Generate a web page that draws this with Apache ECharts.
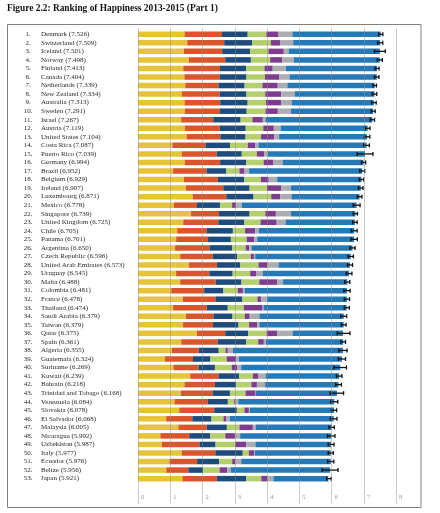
<!DOCTYPE html>
<html><head><meta charset="utf-8">
<script src="https://cdn.jsdelivr.net/npm/echarts@6/dist/echarts.min.js"></script>
<style>html,body{margin:0;padding:0;background:#fff}#c{width:440px;height:513px}</style>
</head><body><div id="c"></div>
<script>
const countries = ["Denmark","Switzerland","Iceland","Norway","Finland","Canada","Netherlands","New Zealand","Australia","Sweden","Israel","Austria","United States","Costa Rica","Puerto Rico","Germany","Brazil","Belgium","Ireland","Luxembourg","Mexico","Singapore","United Kingdom","Chile","Panama","Argentina","Czech Republic","United Arab Emirates","Uruguay","Malta","Colombia","France","Thailand","Saudi Arabia","Taiwan","Qatar","Spain","Algeria","Guatemala","Suriname","Kuwait","Bahrain","Trinidad and Tobago","Venezuela","Slovakia","El Salvador","Malaysia","Nicaragua","Uzbekistan","Italy","Ecuador","Belize","Japan"];
const scores = [7.526,7.509,7.501,7.498,7.413,7.404,7.339,7.334,7.313,7.291,7.267,7.119,7.104,7.087,7.039,6.994,6.952,6.929,6.907,6.871,6.778,6.739,6.725,6.705,6.701,6.650,6.596,6.573,6.545,6.488,6.481,6.478,6.474,6.379,6.379,6.375,6.361,6.355,6.324,6.269,6.239,6.218,6.168,6.084,6.078,6.068,6.005,5.992,5.987,5.977,5.976,5.956,5.921];
const gdp = [1.44178,1.52733,1.42666,1.57744,1.40598,1.44015,1.46468,1.36066,1.44443,1.45181,1.33766,1.45038,1.50796,1.06879,1.35943,1.44787,1.08754,1.42539,1.48341,1.69752,1.11508,1.64555,1.40283,1.2167,1.18306,1.15137,1.30915,1.57352,1.18157,1.30782,1.03032,1.39488,1.0893,1.48953,1.39729,1.82427,1.34253,1.05266,0.83454,1.09686,1.61714,1.44024,1.32572,1.13367,1.27973,0.8737,1.25142,0.69384,0.73591,1.35495,0.97306,0.87616,1.38007];
const socialSupport = [1.16374,1.14524,1.18326,1.1269,1.13464,1.0961,1.02912,1.17278,1.10476,1.08764,0.99537,1.08383,1.04782,1.02152,1.08113,1.09774,1.03938,1.05249,1.16157,1.03999,0.7146,0.86758,1.08672,0.90587,0.98912,1.06612,1.00793,0.87114,1.03143,1.09879,1.02169,1.00508,1.04477,0.84829,0.92624,0.87964,1.12945,0.83309,0.87119,0.77866,0.87758,0.94397,0.98569,1.03302,1.08268,0.80975,0.88025,0.89521,1.1681,1.04167,0.85974,0.68655,1.06054];
const health = [0.79504,0.86303,0.86733,0.79579,0.81091,0.8276,0.81231,0.83096,0.8512,0.83121,0.84917,0.80565,0.779,0.76146,0.77758,0.81487,0.61415,0.81959,0.81455,0.84542,0.71143,0.94719,0.80991,0.81883,0.70835,0.69711,0.76376,0.72993,0.72183,0.80315,0.59659,0.83795,0.64915,0.59267,0.79565,0.71723,0.87896,0.61804,0.54039,0.50933,0.63569,0.65696,0.5392,0.61904,0.70367,0.596,0.62366,0.65213,0.50163,0.85102,0.68613,0.45569,0.91491];
const freedom = [0.57941,0.58557,0.56624,0.59609,0.57104,0.5737,0.55211,0.58147,0.56837,0.58218,0.36432,0.54355,0.48163,0.55225,0.46823,0.53466,0.40425,0.51354,0.54008,0.5487,0.37709,0.4877,0.50036,0.37789,0.48927,0.42284,0.41418,0.56215,0.54388,0.54994,0.44735,0.46562,0.49553,0.37904,0.32377,0.56679,0.37545,0.21006,0.50379,0.52234,0.43166,0.47375,0.48453,0.19847,0.23391,0.37269,0.39031,0.46582,0.60848,0.18827,0.4027,0.51231,0.46761];
const generosity = [0.36171,0.28083,0.47678,0.37895,0.25492,0.44834,0.47416,0.49401,0.47407,0.38254,0.32288,0.32865,0.41077,0.22553,0.22202,0.30452,0.15776,0.2424,0.44963,0.27571,0.11735,0.32706,0.50156,0.31595,0.2418,0.10989,0.09929,0.26591,0.18056,0.56237,0.15626,0.1216,0.58696,0.15457,0.25495,0.32388,0.17665,0.07044,0.28808,0.16665,0.15965,0.17147,0.30348,0.0425,0.13837,0.08877,0.41474,0.29773,0.34326,0.16684,0.10074,0.23684,0.19615];
const corruption = [0.44453,0.41203,0.14975,0.35776,0.41004,0.31329,0.29927,0.41904,0.32331,0.40867,0.08728,0.21348,0.14868,0.10547,0.12275,0.28551,0.14166,0.26248,0.29754,0.35329,0.18355,0.46987,0.27399,0.11451,0.08423,0.07296,0.03986,0.35561,0.21394,0.17554,0.05399,0.17808,0.02833,0.30008,0.0663,0.48049,0.06137,0.16157,0.08701,0.12692,0.23669,0.25772,0.0114,0.08304,0.02947,0.10613,0.09081,0.16292,0.28333,0.02556,0.18037,0.10771,0.1806];
const dystopia = [2.73939,2.69463,2.83137,2.66465,2.82596,2.70485,2.70749,2.47553,2.5465,2.54734,3.31029,2.69343,2.72782,3.35168,3.00741,2.50931,3.50733,2.61355,2.15988,2.10944,3.55906,1.99375,2.14999,2.95505,3.00559,3.12985,2.96211,2.21507,2.67139,1.99032,3.17471,2.47553,2.5796,2.61482,2.61523,1.56276,2.39663,3.40904,3.19863,3.06852,2.28085,2.27405,2.51767,2.97468,2.61065,3.22134,2.35384,2.82428,2.34638,2.34918,2.77366,3.08039,1.70149];
const ciLower = [7.460,7.428,7.333,7.421,7.351,7.335,7.284,7.264,7.241,7.227,7.199,7.045,7.021,6.999,6.794,6.930,6.875,6.861,6.836,6.799,6.670,6.674,6.654,6.615,6.601,6.570,6.513,6.494,6.456,6.409,6.384,6.397,6.396,6.287,6.305,6.178,6.288,6.227,6.213,6.073,6.154,6.128,5.961,5.973,5.997,5.967,5.921,5.877,5.896,5.898,5.880,5.710,5.850];
const ciUpper = [7.592,7.590,7.669,7.575,7.475,7.473,7.394,7.404,7.385,7.355,7.335,7.193,7.187,7.175,7.284,7.058,7.029,6.997,6.978,6.943,6.886,6.804,6.796,6.795,6.801,6.730,6.679,6.652,6.634,6.567,6.578,6.559,6.552,6.471,6.453,6.572,6.434,6.483,6.435,6.465,6.324,6.308,6.375,6.195,6.159,6.169,6.089,6.107,6.078,6.056,6.072,6.202,5.992];
const xTicks = [0,1,2,3,4,5,6,7,8];
const titleText = "Figure 2.2: Ranking of Happiness 2013-2015 (Part 1)";

const segNames = ["GDP per capita","Social support","Healthy life expectancy","Freedom","Generosity","Perceptions of corruption","Dystopia (1.85) + residual"];
const segData = [gdp, socialSupport, health, freedom, generosity, corruption, dystopia];
const segColors = ["#E6C43A","#D9562C","#1C4B7C","#B3D06C","#7D3C8E","#ABADB1","#2479B6"];

const chart = echarts.init(document.getElementById('c'), null, {renderer:'canvas'});
const serif = "'Liberation Serif', 'DejaVu Serif', serif";

const series = segData.map((d, k) => ({
  name: segNames[k], type: 'bar', stack: 'total', xAxisIndex: 1, yAxisIndex: 1,
  barWidth: 5.5, silent: true, itemStyle: {color: segColors[k]}, data: d, z: 2
}));
series.push({
  type: 'custom', xAxisIndex: 1, yAxisIndex: 1, silent: true, z: 4,
  data: ciLower.map((lo, i) => [lo, ciUpper[i], i]),
  encode: {x: [0, 1], y: 2},
  renderItem: (params, api) => {
    const a = api.coord([api.value(0), api.value(2)]);
    const b = api.coord([api.value(1), api.value(2)]);
    const h = 2;
    const st = {stroke: '#111', lineWidth: 1.3};
    return {type: 'group', children: [
      {type: 'line', shape: {x1: a[0], y1: a[1], x2: b[0], y2: b[1]}, style: st},
      {type: 'line', shape: {x1: a[0], y1: a[1]-h, x2: a[0], y2: a[1]+h}, style: st},
      {type: 'line', shape: {x1: b[0], y1: b[1]-h, x2: b[0], y2: b[1]+h}, style: st}
    ]};
  }
});

chart.setOption({
  animation: false,
  backgroundColor: '#fff',
  grid: [
    {left: 138, width: 258, top: 28, height: 476},
    {left: 138, width: 258, top: 30, height: 452.9}
  ],
  xAxis: [
    {gridIndex: 0, type: 'value', min: 0, max: 8, interval: 1, z: 5,
     axisLine: {show: false}, axisTick: {show: false},
     splitLine: {show: true, lineStyle: {color: 'rgba(140,140,140,0.45)', width: 1}},
     axisLabel: {inside: true, margin: 3, align: 'left', padding: [0,0,0,3], color: '#9a9a9a', fontSize: 6.5, fontFamily: serif,
       formatter: v => String(xTicks[v])}},
    {gridIndex: 1, type: 'value', min: 0, max: 8, show: false}
  ],
  yAxis: [
    {gridIndex: 0, type: 'value', show: false},
    {gridIndex: 1, type: 'category', inverse: true, data: countries,
     axisLine: {show: false}, axisTick: {show: false},
     axisLabel: {interval: 0, margin: 116, align: 'left', fontSize: 7, fontFamily: serif, color: '#2a2a2a',
       formatter: (v, i) => `{r|${i + 1}.}{n|${v} (${scores[i].toFixed(3)})}`,
       rich: {
         r: {width: 12, align: 'right', fontSize: 7, fontFamily: serif, color: '#2a2a2a'},
         n: {padding: [0,0,0,7], fontSize: 7, fontFamily: serif, color: '#2a2a2a'}
       }}}
  ],
  graphic: [
    {type: 'text', left: 7, top: 4.5, style: {text: titleText, font: "bold 9.4px " + serif, fill: '#111'}},
    {type: 'rect', shape: {x: 7.5, y: 24.5, width: 413.5, height: 483}, style: {fill: 'none', stroke: '#808080', lineWidth: 1}, z: 10, silent: true}
  ],
  series: series
});
</script>
</body></html>
